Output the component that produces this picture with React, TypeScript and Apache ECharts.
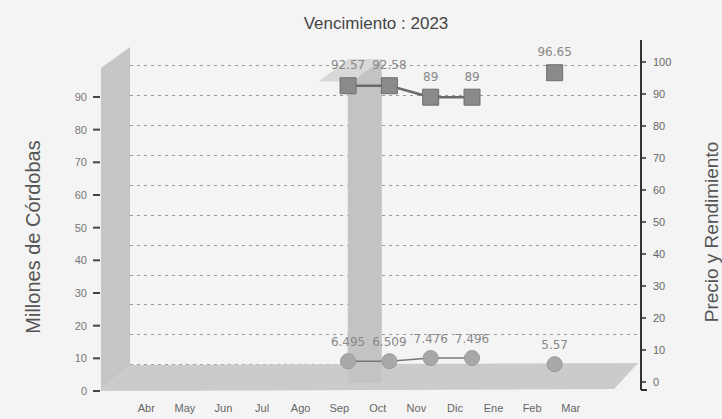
import React, { useEffect, useRef } from "react";
import * as echarts from "echarts";

const categories = ["Abr", "May", "Jun", "Jul", "Ago", "Sep", "Oct", "Nov", "Dic", "Ene", "Feb", "Mar"];
const montos: (number | null)[] = [null, null, null, null, null, null, 99, null, null, null, null, null];
const precio: (number | null)[] = [null, null, null, null, null, 92.57, 92.58, 89, 89, null, 96.65, null];
const rendimiento: (number | null)[] = [null, null, null, null, null, 6.495, 6.509, 7.476, 7.496, null, 5.57, null];
const leftTicks = [0, 10, 20, 30, 40, 50, 60, 70, 80, 90];
const rightTicks = [0, 10, 20, 30, 40, 50, 60, 70, 80, 90, 100];
const titleText = "Vencimiento : 2023";
const leftName = "Millones de Córdobas";
const rightName = "Precio y Rendimiento";

const SANS = "'Liberation Sans', Arial, sans-serif";
const LABEL_FONT = "'DejaVu Sans', sans-serif";

export default function App() {
  const ref = useRef<HTMLDivElement>(null);
  useEffect(() => {
    if (!ref.current) return;
    const chart = echarts.init(ref.current, undefined, { renderer: "svg" });
    const barData = montos
      .map((v, i) => (v == null ? null : [i, v]))
      .filter((d) => d !== null);
    const precioData = precio.map((v, i) => [i, v == null ? "-" : v]);
    const rendData = rendimiento.map((v, i) => [i, v == null ? "-" : v]);
    const tickMarks = leftTicks.map((v) => [0, v]);

    chart.setOption({
      animation: false,
      backgroundColor: "#f4f4f4",
      title: {
        text: titleText,
        left: 371,
        top: 10,
        textAlign: "center",
        textStyle: { fontFamily: SANS, fontSize: 17, fontWeight: "normal", color: "#444" },
      },
      grid: [
        { left: 127, width: 463, top: 64.3, bottom: 28, containLabel: false },
        { left: 130, right: 85, top: 65.5, bottom: 54.5, containLabel: false },
        { left: 130, right: 81, top: 62, bottom: 37, containLabel: false },
      ],
      xAxis: [
        {
          type: "category",
          gridIndex: 0,
          data: categories,
          axisLine: { show: false },
          axisTick: { show: false },
          axisLabel: { color: "#666", fontSize: 11, fontFamily: SANS, margin: 11 },
        },
        { type: "value", gridIndex: 1, min: 0, max: 1, show: false },
        { type: "value", gridIndex: 2, min: -0.278, max: 12.09, show: false },
      ],
      yAxis: [
        {
          type: "value",
          gridIndex: 0,
          position: "left",
          offset: 27,
          z: 6,
          min: 0,
          max: 100,
          interval: 10,
          axisLine: { show: false, onZero: false },
          axisTick: { show: false },
          axisLabel: {
            color: "#777",
            fontSize: 11,
            fontFamily: SANS,
            margin: 13,
            customValues: leftTicks,
          },
          splitLine: { show: false },
        },
        {
          type: "value",
          gridIndex: 1,
          min: 0,
          max: 100,
          interval: 10,
          axisLine: { show: false, onZero: false },
          axisTick: { show: false },
          axisLabel: { show: false },
          splitLine: { show: true, lineStyle: { color: "#9a9a9a", type: [3, 4], width: 1 } },
        },
        {
          type: "value",
          gridIndex: 2,
          position: "right",
          min: 0,
          max: 100,
          interval: 10,
          axisLine: { show: false, onZero: false },
          axisTick: {
            show: true,
            inside: false,
            length: 5,
            customValues: rightTicks,
            lineStyle: { color: "#333", width: 1.5 },
          },
          axisLabel: { color: "#666", fontSize: 11, fontFamily: SANS, margin: 12, customValues: rightTicks },
          splitLine: { show: false },
        },
      ],
      graphic: [
        {
          type: "polygon",
          z: 1,
          shape: { points: [[101, 68], [130, 47], [130, 365], [101, 391]] },
          style: { fill: "#c6c6c6" },
        },
        {
          type: "polygon",
          z: 1,
          shape: { points: [[101, 391], [130, 365], [638, 363], [614, 389]] },
          style: { fill: "#cbcbcb" },
        },
        {
          type: "line",
          z: 5,
          shape: { x1: 641, y1: 40, x2: 641, y2: 390 },
          style: { stroke: "#333", lineWidth: 2 },
        },
        {
          type: "line",
          z: 5,
          shape: { x1: 641, y1: 390, x2: 647, y2: 390 },
          style: { stroke: "#333", lineWidth: 2 },
        },
        {
          type: "text",
          z: 5,
          x: 33,
          y: 237,
          rotation: Math.PI / 2,
          style: {
            text: leftName,
            fontFamily: SANS,
            fontSize: 20,
            fill: "#555",
            textAlign: "center",
            textVerticalAlign: "middle",
          },
        },
        {
          type: "text",
          z: 5,
          x: 711,
          y: 232,
          rotation: Math.PI / 2,
          style: {
            text: rightName,
            fontFamily: SANS,
            fontSize: 19,
            fill: "#555",
            textAlign: "center",
            textVerticalAlign: "middle",
          },
        },
      ],
      series: [
        {
          name: "Monto",
          type: "custom",
          xAxisIndex: 0,
          yAxisIndex: 0,
          z: 3,
          data: barData,
          renderItem: (params: any, api: any) => {
            const cat = api.value(0);
            const v = api.value(1);
            const top = api.coord([cat, v]);
            const base = api.coord([cat, 0]);
            const w = 34;
            const shiftY = -8;
            const x0 = top[0] - 13 - w / 2;
            const yTop = top[1] + shiftY;
            const yBase = base[1] + shiftY;
            return {
              type: "group",
              children: [
                {
                  type: "rect",
                  shape: { x: x0, y: yTop, width: w, height: yBase - yTop },
                  style: { fill: "#c3c3c3" },
                },
                {
                  type: "polygon",
                  shape: {
                    points: [
                      [x0 - 29, yTop + 22],
                      [x0, yTop],
                      [x0 + w, yTop],
                      [x0 + w - 29, yTop + 22],
                    ],
                  },
                  style: { fill: "#d8d8d8" },
                },
              ],
            };
          },
        },
        {
          name: "TicksIzq",
          type: "custom",
          xAxisIndex: 0,
          yAxisIndex: 0,
          z: 8,
          silent: true,
          data: tickMarks,
          renderItem: (params: any, api: any) => {
            const p = api.coord([0, api.value(1)]);
            const axisX = params.coordSys.x - 27;
            return {
              type: "line",
              shape: { x1: axisX - 7, y1: p[1], x2: axisX, y2: p[1] },
              style: { stroke: "#444", lineWidth: 2 },
            };
          },
        },
        {
          name: "Rendimiento",
          type: "line",
          xAxisIndex: 2,
          yAxisIndex: 2,
          z: 6,
          data: rendData,
          symbol: "circle",
          symbolSize: 15,
          itemStyle: { color: "#a8a8a8", borderColor: "#9a9a9a", borderWidth: 1 },
          lineStyle: { color: "#777", width: 1.5 },
          label: {
            show: true,
            position: "top",
            distance: 5,
            color: "#888",
            fontSize: 12,
            fontFamily: LABEL_FONT,
          },
        },
        {
          name: "Precio",
          type: "line",
          xAxisIndex: 2,
          yAxisIndex: 2,
          z: 7,
          data: precioData,
          symbol: "rect",
          symbolSize: 16,
          itemStyle: { color: "#8a8a8a", borderColor: "#6e6e6e", borderWidth: 1 },
          lineStyle: { color: "#6a6a6a", width: 2.5 },
          label: {
            show: true,
            position: "top",
            distance: 6,
            color: "#888",
            fontSize: 12,
            fontFamily: LABEL_FONT,
          },
        },
      ],
    });
    return () => chart.dispose();
  }, []);
  return (
    <div
      ref={ref}
      style={{ position: "fixed", left: 0, top: 0, width: 722, height: 419 }}
    />
  );
}
